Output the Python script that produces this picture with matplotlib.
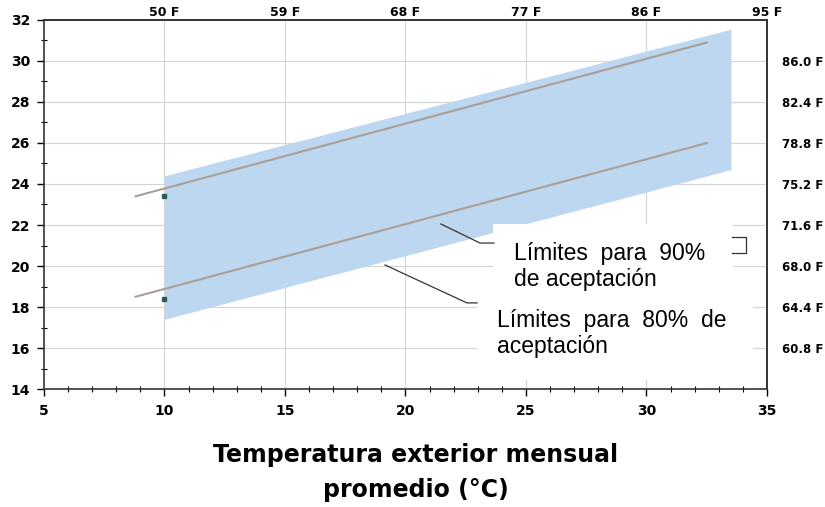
import matplotlib.pyplot as plt
from matplotlib.patches import Rectangle
from matplotlib.ticker import MultipleLocator

# band of acceptable operative temperature (80% acceptance)
band_x = [10, 33.5]
band_lower = [17.4, 24.7]
band_upper = [24.4, 31.55]

# 90% acceptance limits
lim90_x = [8.8, 32.5]
lim90_upper = [23.4, 30.9]
lim90_lower = [18.5, 26.0]

# small markers at 10 C
mark_x = [10, 10]
mark_y = [23.4, 18.4]

x_ticks = [5, 10, 15, 20, 25, 30, 35]
y_ticks = [14, 16, 18, 20, 22, 24, 26, 28, 30, 32]
top_ticks = [10, 15, 20, 25, 30, 35]
top_labels = ["50 F", "59 F", "68 F", "77 F", "86 F", "95 F"]
right_ticks = [16, 18, 20, 22, 24, 26, 28, 30]
right_labels = ["60.8 F", "64.4 F", "68.0 F", "71.6 F", "75.2 F", "78.8 F", "82.4 F", "86.0 F"]

plt.rcParams['font.family'] = ['Liberation Sans', 'DejaVu Sans']
BOLD = ['DejaVu Sans']

fig = plt.figure(figsize=(8.25, 5.07), dpi=100)
ax = fig.add_axes([0.0533, 0.2327, 0.8764, 0.7279])

# grid drawn by hand so the band sits on top of it
for xv in x_ticks[1:-1]:
    ax.axvline(xv, color="#D4D4D4", lw=0.8, zorder=0.5)
for yv in y_ticks[1:-1]:
    ax.axhline(yv, color="#D4D4D4", lw=0.8, zorder=0.5)

ax.fill_between(band_x, band_lower, band_upper, color="#BDD7F0", lw=0, zorder=3)
ax.plot(lim90_x, lim90_upper, color="#A99F98", lw=1.5, zorder=4)
ax.plot(lim90_x, lim90_lower, color="#A99F98", lw=1.5, zorder=4)
ax.plot(mark_x, mark_y, ls="none", marker="s", ms=3, color="#2E5B57", zorder=5)

ax.set_xlim(5, 35)
ax.set_ylim(14, 32)
ax.set_xticks(x_ticks)
ax.set_yticks(y_ticks)
ax.xaxis.set_minor_locator(MultipleLocator(1))
ax.yaxis.set_minor_locator(MultipleLocator(1))
ax.tick_params(which="major", direction="out", length=5, width=1, labelsize=10)
ax.tick_params(axis="x", which="major", pad=6)
ax.tick_params(axis="y", which="major", pad=5)
ax.tick_params(which="minor", direction="inout", length=4, width=0.8)
for lab in ax.get_xticklabels() + ax.get_yticklabels():
    lab.set_fontweight("bold")
    lab.set_family(BOLD)
for s in ax.spines.values():
    s.set_linewidth(1.2)
    s.set_color("#333333")

# Fahrenheit equivalents
axt = ax.secondary_xaxis("top")
axt.set_xticks(top_ticks)
axt.set_xticklabels(top_labels, fontweight="bold", fontsize=9, family=BOLD)
axt.tick_params(length=0, pad=1)
axt.spines["top"].set_linewidth(1.2)
axt.spines["top"].set_color("#333333")

axr = ax.secondary_yaxis("right")
axr.set_yticks(right_ticks)
axr.set_yticklabels(right_labels, fontweight="bold", fontsize=8.5, family=BOLD)
axr.tick_params(length=0, pad=11)
axr.spines["right"].set_linewidth(1.2)
axr.spines["right"].set_color("#333333")

# annotation boxes and leader lines
ax.add_patch(Rectangle((23.63, 18.34), 9.96, 3.71, fc="white", ec="none", zorder=6))
ax.add_patch(Rectangle((22.97, 14.44), 11.45, 4.0, fc="white", ec="none", zorder=6,
                       clip_on=False))
ax.plot([21.47, 23.09, 23.67], [22.05, 21.12, 21.12], color="#333333", lw=0.9, zorder=7)
ax.plot([19.15, 22.55, 22.97], [20.05, 18.20, 18.20], color="#333333", lw=0.9, zorder=7)
ax.plot([33.55, 34.13, 34.13, 33.55], [21.41, 21.41, 20.63, 20.63], color="#333333",
        lw=0.9, zorder=7, clip_on=False)

ax.text(24.50, 20.29, "Límites  para  90%", fontsize=16.5, va="baseline", zorder=8)
ax.text(24.50, 19.02, "de aceptación", fontsize=16.5, va="baseline", zorder=8)
ax.text(23.80, 17.02, "Límites  para  80%  de", fontsize=16.5, va="baseline", zorder=8)
ax.text(23.80, 15.76, "aceptación", fontsize=16.5, va="baseline", zorder=8)

fig.text(0.504, 0.0888, "Temperatura exterior mensual", ha="center", va="baseline",
         fontsize=17, fontweight="bold", family=BOLD)
fig.text(0.504, 0.0197, "promedio (°C)", ha="center", va="baseline",
         fontsize=17, fontweight="bold", family=BOLD)

fig.savefig("out.png", dpi=100)
